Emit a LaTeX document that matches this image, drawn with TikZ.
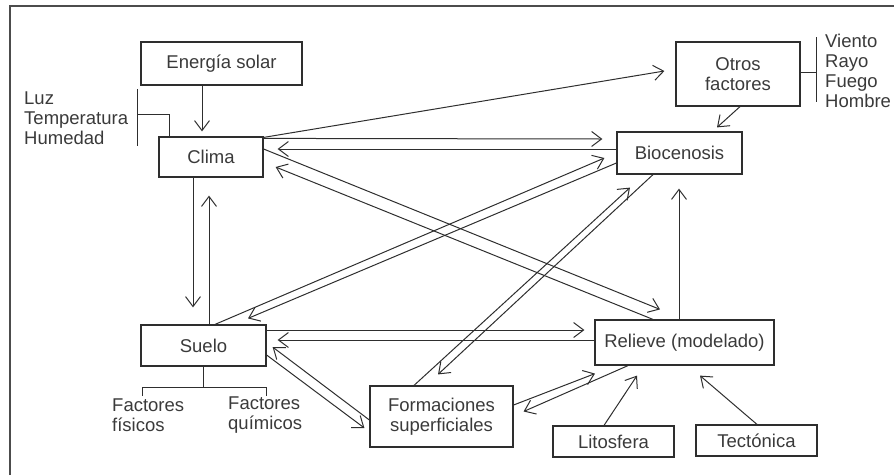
\documentclass[tikz,border=0pt]{standalone}
\usepackage{fontspec}
\setmainfont{Liberation Sans}
\usetikzlibrary{arrows.meta,calc}
\definecolor{ink}{HTML}{2E2E2E}
\definecolor{txt}{HTML}{3A3A3A}
\tikzset{
  box/.style={draw=ink,line width=1.2pt,inner sep=0pt,text=txt,align=center,
    font=\fontsize{18.5}{19.8}\selectfont},
  lbl/.style={inner sep=0pt,text=txt,align=left,anchor=west,
    font=\fontsize{18.5}{19.8}\selectfont},
  arr/.style={draw=ink,line width=1pt,-{Straight Barb[length=10pt,width=15pt]}},
  link/.style={draw=ink,line width=1pt}
}
\begin{document}
\begin{tikzpicture}[x=1pt,y=-1pt]
\useasboundingbox (0,0) rectangle (894,475);
% frame
\draw[draw=black!70,line width=2pt] (10,475) -- (10,6) -- (894,6);

% boxes
\node[box,minimum width=161pt,minimum height=43pt] (sol) at (221.5,63.5) {Energía solar};
\node[box,minimum width=104pt,minimum height=40pt] (clima) at (211,157) {Clima};
\node[box,minimum width=124pt,minimum height=64pt] (otros) at (738,74) {Otros\\factores};
\node[box,minimum width=125pt,minimum height=42pt] (bio) at (679.5,153) {Biocenosis};
\node[box,minimum width=125pt,minimum height=41pt] (suelo) at (203.5,345.5) {Suelo};
\node[box,minimum width=179pt,minimum height=45pt] (relieve) at (684.5,342.5) {Relieve (modelado)};
\node[box,minimum width=143pt,minimum height=61pt] (form) at (441.5,416.5) {Formaciones\\superficiales};
\node[box,minimum width=121pt,minimum height=31pt] (lito) at (613.5,441.5) {Litosfera};
\node[box,minimum width=121pt,minimum height=31pt] (tect) at (756.5,440.5) {Tectónica};

% side lists
\node[lbl] (luz) at (24,118) {Luz\\Temperatura\\Humedad};
\node[lbl] (viento) at (825,71) {Viento\\Rayo\\Fuego\\Hombre};
\node[lbl] (fis) at (112,415) {Factores\\físicos};
\node[lbl] (quim) at (228,415) {Factores\\químicos};

% brackets
\coordinate (luzb) at (137,114);
\draw[link] ($(luzb)+(0,-25)$) -- ($(luzb)+(0,32)$);
\draw[link] (luzb) -| ($(clima.north west)+(11,0)$);
\coordinate (otrb) at (816,72);
\draw[link] ($(otrb)+(0,-35)$) -- ($(otrb)+(0,30)$);
\draw[link] (otros.east |- otrb) -- (otrb);
\coordinate (suelb) at (203.5,387);
\draw[link] (suelo.south) -- (suelb);
\draw[link] (142,396) -- (142,387) -- (266,387) -- (266,396);

% connectors
\draw[arr] ($(sol.south)+(-19.5,0)$) -- ($(clima.north)+(-9,-5)$);
\draw[arr] ($(otros.south)+(2,0)$) -- ($(bio.north)+(37.5,-4)$);
\draw[arr] ($(clima.north east)+(0,1)$) -- ($(otros.west)+(-11,-3)$);
\draw[arr] ($(clima.north east)+(0,2)$) -- ($(bio.west)+(-14,-14)$);
\draw[arr] ($(bio.west)+(0,-4)$) -- ($(clima.east)+(14,-8)$);
\draw[arr] ($(clima.east)+(0,-8)$) -- ($(relieve.north)+(-24.5,-10)$);
\draw[arr] ($(relieve.north)+(-31.5,0)$) -- ($(clima.east)+(12,10)$);
\draw[arr] ($(clima.south)+(-18,0)$) -- ($(suelo.north)+(-10.5,-17)$);
\draw[arr] ($(suelo.north)+(5.5,0)$) -- ($(clima.south)+(-2,18)$);
\draw[arr] ($(suelo.north)+(11.5,0)$) -- ($(bio.west)+(-12,5)$);
\draw[arr] ($(bio.west)+(0,10)$) -- ($(suelo.north)+(44.5,-6)$);
\draw[arr] ($(form.north)+(-27.5,0)$) -- ($(bio.south)+(-49.5,13)$);
\draw[arr] ($(bio.south)+(-26.5,0)$) -- ($(form.north)+(-3.5,-11)$);
\draw[arr] ($(relieve.north)+(-5.5,0)$) -- ($(bio.south)+(-0.5,14)$);
\draw[arr] ($(suelo.east)+(0,-15.5)$) -- ($(relieve.west)+(-10,-12.5)$);
\draw[arr] ($(relieve.west)+(0,-2.5)$) -- ($(suelo.east)+(11,-5.5)$);
\draw[arr] ($(suelo.east)+(0,9.5)$) -- ($(form.west)+(-5,11.5)$);
\draw[arr] ($(form.west)+(0,3.5)$) -- ($(suelo.east)+(6,1.5)$);
\draw[arr] ($(form.east)+(0,-11.5)$) -- ($(relieve.south)+(-89.5,8)$);
\draw[arr] ($(relieve.south)+(-56.5,0)$) -- ($(form.east)+(10,-5)$);
\draw[arr] ($(lito.north)+(-9.5,0)$) -- ($(relieve.south)+(-47.5,10)$);
\draw[arr] ($(tect.north)+(0.5,0)$) -- ($(relieve.south)+(15.5,10)$);
\end{tikzpicture}
\end{document}
